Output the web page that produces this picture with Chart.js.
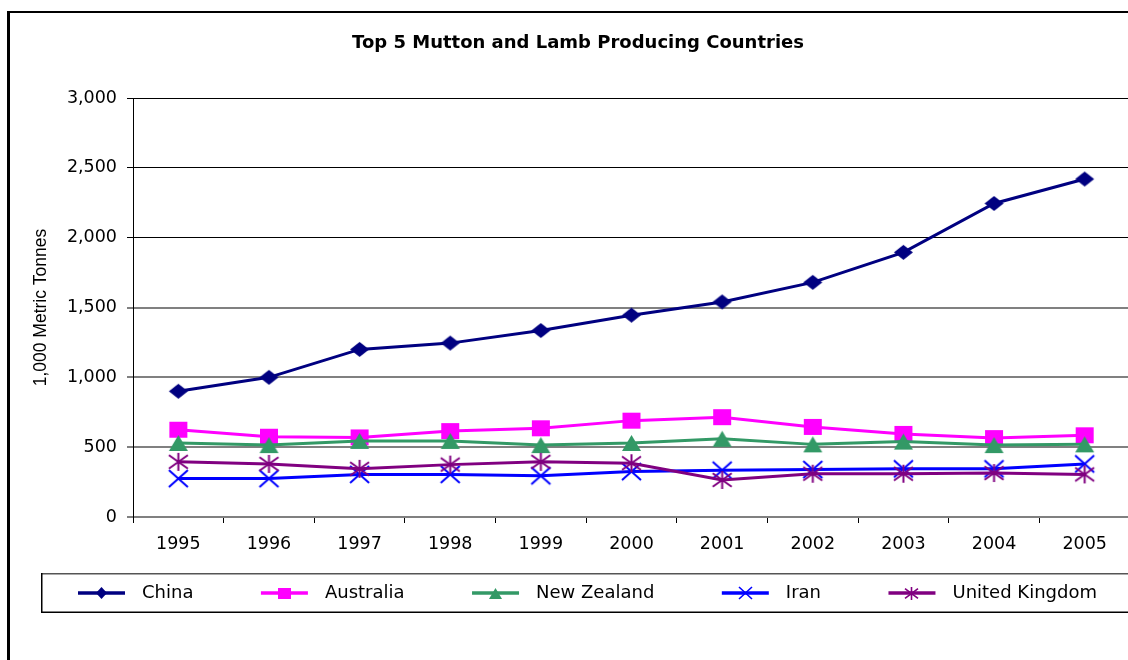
<!DOCTYPE html>
<html>
<head>
<meta charset="utf-8">
<title>Top 5 Mutton and Lamb Producing Countries</title>
<script src="https://cdn.jsdelivr.net/npm/chart.js@4/dist/chart.umd.min.js"></script>
<style>
  html, body { margin: 0; padding: 0; background: #fff; overflow: hidden; }
  canvas { display: block; }
</style>
</head>
<body>
<canvas id="chart" width="1140" height="660"></canvas>
<script>
// Production in thousands of metric tonnes, 1995-2005
const years = ['1995', '1996', '1997', '1998', '1999', '2000', '2001', '2002', '2003', '2004', '2005'];
const china         = [900, 1000, 1200, 1245, 1335, 1445, 1540, 1680, 1895, 2245, 2420];
const australia     = [625, 575, 570, 615, 635, 690, 715, 645, 595, 565, 585];
const newZealand    = [530, 515, 545, 545, 515, 530, 560, 520, 540, 515, 520];
const iran          = [275, 275, 305, 305, 295, 325, 335, 340, 345, 345, 380];
const unitedKingdom = [395, 380, 345, 375, 395, 385, 265, 310, 310, 315, 305];
const seriesNames   = ['China', 'Australia', 'New Zealand', 'Iran', 'United Kingdom'];
const yTickValues   = [0, 500, 1000, 1500, 2000, 2500, 3000];

const chartTitle = 'Top 5 Mutton and Lamb Producing Countries';
const yAxisTitle = '1,000 Metric Tonnes';

const seriesColors = ['#000080', '#FF00FF', '#339966', '#0000FF', '#800080'];
const seriesShapes = ['diamond', 'square', 'triangle', 'cross', 'star'];
const seriesValues = [china, australia, newZealand, iran, unitedKingdom];

// Marker glyphs drawn on small canvases, used as point styles
function makeMarker(kind, color, w, h, stroke) {
  const pad = 2;
  const c = document.createElement('canvas');
  c.width = Math.round(w + pad * 2);
  c.height = Math.round(h + pad * 2);
  const g = c.getContext('2d');
  const cx = c.width / 2, cy = c.height / 2, rx = w / 2, ry = h / 2;
  g.fillStyle = color;
  g.strokeStyle = color;
  g.lineWidth = stroke;
  g.beginPath();
  switch (kind) {
    case 'diamond':
      g.moveTo(cx, cy - ry); g.lineTo(cx + rx, cy); g.lineTo(cx, cy + ry); g.lineTo(cx - rx, cy);
      g.closePath(); g.fill();
      break;
    case 'square':
      g.rect(cx - rx, cy - ry, w, h); g.fill();
      break;
    case 'triangle':
      g.moveTo(cx, cy - ry); g.lineTo(cx + rx, cy + ry); g.lineTo(cx - rx, cy + ry);
      g.closePath(); g.fill();
      break;
    case 'cross':
      g.moveTo(cx - rx, cy - ry); g.lineTo(cx + rx, cy + ry);
      g.moveTo(cx + rx, cy - ry); g.lineTo(cx - rx, cy + ry);
      g.stroke();
      break;
    case 'star':
      g.moveTo(cx - rx, cy - ry * 0.75); g.lineTo(cx + rx, cy + ry * 0.75);
      g.moveTo(cx + rx, cy - ry * 0.75); g.lineTo(cx - rx, cy + ry * 0.75);
      g.moveTo(cx, cy - ry); g.lineTo(cx, cy + ry);
      g.stroke();
      break;
  }
  return c;
}

const plotMarkerSizes   = [[19, 15], [18, 16], [19, 16], [19, 17], [19, 18]];
const legendMarkerSizes = [[11, 12], [13, 11], [13, 11], [13, 12], [13, 13]];

const plotMarkers = seriesShapes.map((s, i) => makeMarker(s, seriesColors[i], plotMarkerSizes[i][0], plotMarkerSizes[i][1], 2));
const legendMarkers = seriesShapes.map((s, i) => makeMarker(s, seriesColors[i], legendMarkerSizes[i][0], legendMarkerSizes[i][1], 1.6));

const datasets = seriesNames.map((name, i) => ({
  label: name,
  data: seriesValues[i],
  borderColor: seriesColors[i],
  backgroundColor: seriesColors[i],
  borderWidth: 3,
  pointStyle: plotMarkers[i],
  pointRadius: 6,
  tension: 0,
  order: seriesNames.length - 1 - i
}));

// Frame, title and boxed legend
const decorPlugin = {
  id: 'decor',
  afterDraw(chart) {
    const ctx = chart.ctx;
    ctx.save();
    // outer frame
    ctx.fillStyle = '#000';
    ctx.fillRect(7, 11, chart.width, 2);
    ctx.fillRect(7, 11, 3, chart.height);

    // title
    ctx.font = 'bold 18px "DejaVu Sans"';
    ctx.textAlign = 'center';
    ctx.textBaseline = 'alphabetic';
    ctx.fillStyle = '#000';
    ctx.fillText(chartTitle, 578, 48);

    // legend box
    ctx.fillStyle = '#555';
    ctx.fillRect(41, 573, chart.width, 1.5);
    ctx.fillStyle = '#000';
    ctx.fillRect(41, 611.5, chart.width, 1.5);
    ctx.fillRect(41, 573, 1.5, 40);

    // legend entries
    ctx.font = '18px "DejaVu Sans"';
    ctx.textAlign = 'left';
    ctx.textBaseline = 'middle';
    const cy = 593;
    let x = 78;
    chart.data.datasets.forEach((ds, i) => {
      ctx.strokeStyle = ds.borderColor;
      ctx.lineWidth = 3.5;
      ctx.beginPath();
      ctx.moveTo(x, cy);
      ctx.lineTo(x + 47, cy);
      ctx.stroke();
      const m = legendMarkers[i];
      ctx.drawImage(m, Math.round(x + 23.5 - m.width / 2), Math.round(cy - m.height / 2));
      x += 47 + 17;
      ctx.fillStyle = '#000';
      ctx.fillText(ds.label, x, cy);
      x += ctx.measureText(ds.label).width + 67.5;
    });
    ctx.restore();
  }
};

new Chart(document.getElementById('chart'), {
  type: 'line',
  data: { labels: years, datasets },
  plugins: [decorPlugin],
  options: {
    responsive: false,
    animation: false,
    events: [],
    layout: { padding: { left: 0, top: 98, right: 10, bottom: 100 } },
    plugins: {
      legend: { display: false },
      title: { display: false },
      tooltip: { enabled: false }
    },
    scales: {
      x: {
        type: 'category',
        offset: true,
        grid: {
          display: true,
          drawOnChartArea: false,
          offset: true,
          color: '#000',
          lineWidth: 1,
          tickLength: 6
        },
        border: { display: true, color: '#808080', width: 2 },
        ticks: {
          color: '#000',
          font: { family: 'DejaVu Sans', size: 17.5 },
          padding: 11,
          maxRotation: 0,
          autoSkip: false
        },
        afterFit(scale) { scale.height = 43; }
      },
      y: {
        min: 0,
        max: 3000,
        afterBuildTicks(scale) { scale.ticks = yTickValues.map(v => ({ value: v })); },
        grid: {
          color: c => (c.tick && c.tick.value >= 2000 ? '#000' : '#808080'),
          lineWidth: c => (c.tick && c.tick.value >= 2000 ? 1 : 2),
          tickLength: 6
        },
        border: { display: true, color: '#000', width: 1 },
        ticks: {
          color: '#000',
          font: { family: 'DejaVu Sans', size: 17.5 },
          padding: 10,
          callback: v => Number(v).toLocaleString('en-US')
        },
        title: {
          display: true,
          text: yAxisTitle,
          color: '#000',
          font: { family: 'Liberation Sans', size: 17.5 },
          padding: { top: 31, bottom: 0 }
        },
        afterFit(scale) { scale.width = 133; }
      }
    }
  }
});
</script>
</body>
</html>
